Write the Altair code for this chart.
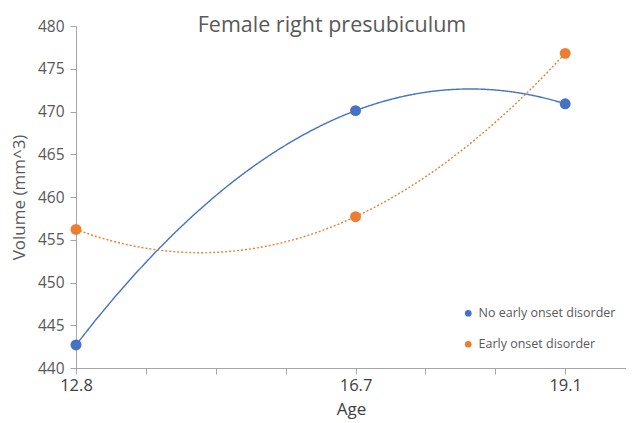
import altair as alt
import pandas as pd

ages = [12.8, 16.7, 19.1]
age_labels = ["12.8", "16.7", "19.1"]
no_early = [442.7, 470.1, 470.9]
early = [456.2, 457.7, 476.8]
groups = ["No early onset disorder", "Early onset disorder"]
colors = ["#4472C4", "#ED7D31"]

rows = []
for g, vals in zip(groups, [no_early, early]):
    for a, v in zip(ages, vals):
        rows.append({"Age": a, "Volume": v, "Group": g})
df = pd.DataFrame(rows)

# Excel category-axis slots: 4 slots between the first two ages, 3 between the last two
slot_of_age = [0, 4, 7]
slot_max = 7.87
slot_expr = (
    f"datum.Age <= {ages[1]} ? {slot_of_age[0]} + (datum.Age - {ages[0]}) / ({ages[1]} - {ages[0]}) * {slot_of_age[1] - slot_of_age[0]}"
    f" : {slot_of_age[1]} + (datum.Age - {ages[1]}) / ({ages[2]} - {ages[1]}) * {slot_of_age[2] - slot_of_age[1]}"
)
label_expr = " : ".join(
    f"datum.value == {s} ? '{lab}'" for s, lab in zip(slot_of_age, age_labels)
) + " : ''"

FONT = "Open Sans"
GREY = "#595959"

x = alt.X(
    "slot:Q",
    scale=alt.Scale(domain=[0, slot_max], nice=False, zero=False),
    axis=alt.Axis(
        values=list(range(0, 8)),
        labelExpr=label_expr,
        labelFlush=False,
        title="Age",
        grid=False,
        domainColor="#A6A6A6",
        tickColor="#A6A6A6",
        tickSize=6,
        labelFontSize=16.5,
        labelColor="#404040",
        labelPadding=3,
        titleFontSize=17,
        titleFontWeight="normal",
        titleColor="#404040",
        titlePadding=8,
        labelFont=FONT,
        titleFont=FONT,
    ),
)
y = alt.Y(
    "Volume:Q",
    scale=alt.Scale(domain=[440, 480], nice=False, zero=False),
    axis=alt.Axis(
        values=list(range(440, 481, 5)),
        title="Volume (mm^3)",
        grid=False,
        domainColor="#A6A6A6",
        tickColor="#A6A6A6",
        tickSize=6,
        labelFontSize=15.5,
        labelColor=GREY,
        labelPadding=6,
        titleFontSize=17,
        titleFontWeight="normal",
        titleColor=GREY,
        titlePadding=9,
        labelFont=FONT,
        titleFont=FONT,
    ),
)
color = alt.Color(
    "Group:N",
    scale=alt.Scale(domain=groups, range=colors),
    legend=alt.Legend(
        title=None,
        orient="none",
        legendX=386,
        legendY=281,
        symbolType="circle",
        symbolSize=45,
        symbolStrokeWidth=0,
        labelFontSize=12.5,
        labelColor=GREY,
        labelFont=FONT,
        labelLimit=200,
        rowPadding=18,
        symbolOffset=0,
    ),
)

base = alt.Chart(df).transform_calculate(slot=slot_expr)

lines = base.transform_regression(
    "slot", "Volume", method="poly", order=2, groupby=["Group"],
    extent=[slot_of_age[0], slot_of_age[-1]],
).mark_line(strokeWidth=1.4).encode(
    x=x,
    y=y,
    color=color,
    strokeDash=alt.StrokeDash(
        "Group:N",
        scale=alt.Scale(domain=groups, range=[[1, 0], [2, 2]]),
        legend=None,
    ),
)
points = base.mark_point(filled=True, size=120, opacity=1).encode(
    x=x, y=y, color=color
)

chart = (
    alt.layer(lines, points)
    .properties(
        width=550,
        height=342,
        title=alt.TitleParams(
            "Female right presubiculum",
            fontSize=21.5,
            font=FONT,
            fontWeight="normal",
            color=GREY,
            anchor="middle",
            frame="group",
            dx=-19,
            dy=17,
            offset=0,
        ),
        autosize=alt.AutoSizeParams(type="none"),
        padding={"left": 68, "top": 18, "right": 0, "bottom": 55},
    )
    .configure_view(stroke=None)
)

chart.save("out.html", embed_options={"renderer": "svg", "actions": False})
